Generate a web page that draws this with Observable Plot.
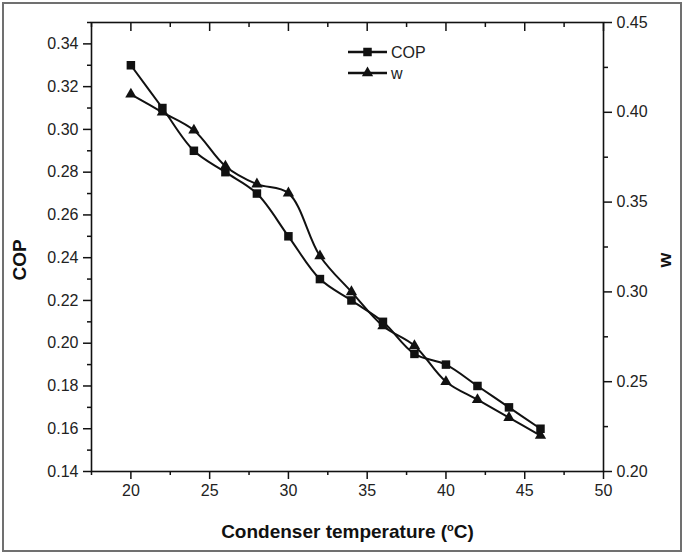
<!DOCTYPE html>
<html><head><meta charset="utf-8">
<script src="https://cdn.jsdelivr.net/npm/d3@7"></script>
<script src="https://cdn.jsdelivr.net/npm/@observablehq/plot@0.6"></script>
<style>
body{margin:0;background:#fff;}
#wrap{position:relative;width:685px;height:554px;overflow:hidden;}
#border{position:absolute;left:2px;top:2px;width:680px;height:550px;box-sizing:border-box;border:2px solid #707070;pointer-events:none;}
</style></head><body><div id="wrap"><div id="border"></div></div>
<script>
// ---- data ----
const temperature = [20, 22, 24, 26, 28, 30, 32, 34, 36, 38, 40, 42, 44, 46];
const copValues   = [0.33, 0.31, 0.29, 0.28, 0.27, 0.25, 0.23, 0.22, 0.21, 0.195, 0.19, 0.18, 0.17, 0.16];
const wValues     = [0.41, 0.40, 0.39, 0.37, 0.36, 0.355, 0.32, 0.30, 0.281, 0.27, 0.25, 0.24, 0.23, 0.22];

const xTicks     = [20, 25, 30, 35, 40, 45, 50];
const xMinor     = [17.5, 22.5, 27.5, 32.5, 37.5, 42.5, 47.5];
const copTicks   = [0.14, 0.16, 0.18, 0.20, 0.22, 0.24, 0.26, 0.28, 0.30, 0.32, 0.34];
const copMinor   = [0.15, 0.17, 0.19, 0.21, 0.23, 0.25, 0.27, 0.29, 0.31, 0.33, 0.35];
const wTicks     = [0.20, 0.25, 0.30, 0.35, 0.40, 0.45];
const wMinor     = [0.225, 0.275, 0.325, 0.375, 0.425];

const xDomain = [17.5, 50];
const copDomain = [0.14, 0.35];
const wDomain = [0.20, 0.45];

const wToCop = v => copDomain[0] + (v - wDomain[0]) * (copDomain[1] - copDomain[0]) / (wDomain[1] - wDomain[0]);
const copToW = v => wDomain[0] + (v - copDomain[0]) * (wDomain[1] - wDomain[0]) / (copDomain[1] - copDomain[0]);

const copData = temperature.map((t, i) => ({t, v: copValues[i]}));
const wData = temperature.map((t, i) => ({t, v: wToCop(wValues[i])}));

const blank = () => "";
const ink = "#111";

const plot = Plot.plot({
  width: 685,
  height: 554,
  marginLeft: 91,
  marginRight: 82,
  marginTop: 22,
  marginBottom: 83,
  style: {fontFamily: "'Liberation Sans', Arial, Helvetica, sans-serif", fontSize: "16px", color: "#222", background: "transparent"},
  x: {domain: xDomain, label: null},
  y: {domain: copDomain, label: null},
  marks: [
    Plot.frame({stroke: ink, strokeWidth: 1.6}),
    // bottom axis
    Plot.axisX(xTicks, {anchor: "bottom", tickSize: 8, tickPadding: 5, label: null, stroke: ink, strokeWidth: 1.5}),
    Plot.axisX(xMinor, {anchor: "bottom", tickSize: 4, tickFormat: blank, label: null, stroke: ink, strokeWidth: 1.5}),
    // top mirror ticks (inward)
    Plot.axisX(xTicks, {anchor: "top", tickSize: -8, tickFormat: blank, label: null, stroke: ink, strokeWidth: 1.5}),
    Plot.axisX(xMinor, {anchor: "top", tickSize: -4, tickFormat: blank, label: null, stroke: ink, strokeWidth: 1.5}),
    // left COP axis
    Plot.axisY(copTicks, {anchor: "left", tickSize: 8, tickPadding: 5, tickFormat: d => d.toFixed(2), label: null, stroke: ink, strokeWidth: 1.5}),
    Plot.axisY(copMinor, {anchor: "left", tickSize: 4, tickFormat: blank, label: null, stroke: ink, strokeWidth: 1.5}),
    // right w axis
    Plot.axisY(wTicks.map(wToCop), {anchor: "right", tickSize: 8, tickPadding: 5, tickFormat: d => copToW(d).toFixed(2), label: null, stroke: ink, strokeWidth: 1.5}),
    Plot.axisY(wMinor.map(wToCop), {anchor: "right", tickSize: 4, tickFormat: blank, label: null, stroke: ink, strokeWidth: 1.5}),
    // series
    Plot.line(copData, {x: "t", y: "v", curve: "catmull-rom", stroke: ink, strokeWidth: 2}),
    Plot.line(wData, {x: "t", y: "v", curve: "catmull-rom", stroke: ink, strokeWidth: 2}),
    Plot.dot(copData, {x: "t", y: "v", symbol: "square", r: 4.8, fill: ink, stroke: null}),
    Plot.dot(wData, {x: "t", y: "v", symbol: "triangle", r: 4.2, fill: ink, stroke: null}),
    // axis titles
    Plot.text(["COP"], {frameAnchor: "left", textAnchor: "middle", dx: -72, dy: 13, rotate: -90, fontWeight: "bold", fontSize: 19, fill: ink}),
    Plot.text(["w"], {frameAnchor: "right", textAnchor: "middle", dx: 61, dy: 13, rotate: -90, fontWeight: "bold", fontSize: 19, fill: ink}),
    Plot.text(["Condenser temperature (°C)"], {frameAnchor: "bottom", dy: 66, fontWeight: "bold", fontSize: 19, fill: ink})
  ]
});

document.getElementById("wrap").prepend(plot);

// superscript "o" in the x title
const svg = d3.select(plot);
svg.selectAll("text").filter(function() { return this.textContent === "Condenser temperature (°C)"; })
  .each(function() {
    const t = d3.select(this);
    t.text(null);
    t.append("tspan").text("Condenser temperature (");
    t.append("tspan").attr("dy", -7).attr("font-size", 11).text("o");
    t.append("tspan").attr("dy", 7).text("C)");
  });

// legend
const legendItems = [
  {label: "COP", symbol: d3.symbolSquare, size: 4.8 * 4.8 * Math.PI},
  {label: "w", symbol: d3.symbolTriangle, size: 4.2 * 4.2 * Math.PI}
];
const lg = svg.append("g").attr("transform", "translate(348,52)")
  .attr("font-family", "'Liberation Sans', Arial, sans-serif").attr("font-size", 16).attr("fill", "#222")
  .attr("text-anchor", "start");
legendItems.forEach((d, i) => {
  const g = lg.append("g").attr("transform", `translate(0,${i * 21})`);
  g.append("line").attr("x1", 0).attr("x2", 39).attr("stroke", ink).attr("stroke-width", 2.4);
  g.append("path").attr("d", d3.symbol(d.symbol, d.size)()).attr("transform", "translate(19.5,0)").attr("fill", ink);
  g.append("text").attr("x", 43).attr("dy", "0.35em").attr("text-anchor", "start").text(d.label);
});
</script>
</body></html>
